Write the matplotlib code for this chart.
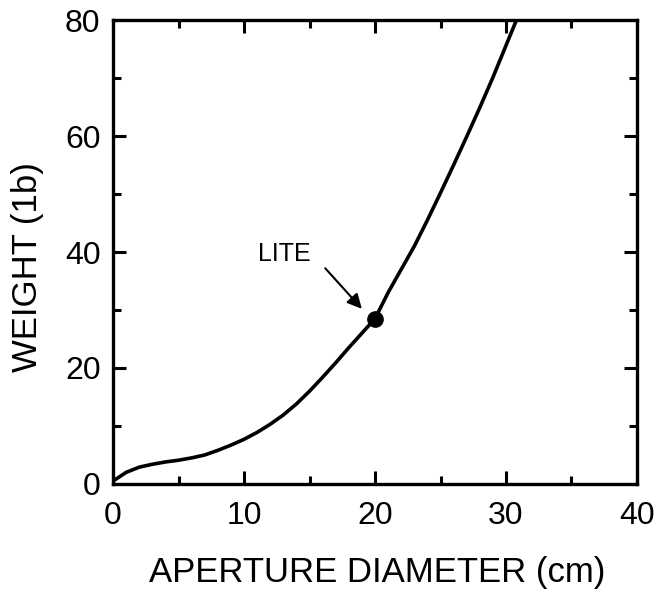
import numpy as np
import matplotlib.pyplot as plt
from matplotlib.ticker import MultipleLocator

# weight vs aperture diameter
diameter = [0, 1, 2, 3, 4, 5, 6, 7, 8, 9, 10, 11, 12, 13, 14, 15, 16, 17, 18, 19, 20,
            21, 22, 23, 24, 25, 26, 27, 28, 29, 30, 30.8]
weight = [0.5, 2.0, 2.9, 3.4, 3.8, 4.1, 4.5, 5.0, 5.8, 6.7, 7.7, 8.9, 10.3, 11.9, 13.8,
          16.0, 18.4, 20.9, 23.5, 26.0, 28.5, 33.0, 37.0, 41.0, 45.5, 50.2, 55.0, 59.9,
          64.9, 70.1, 75.6, 80.0]

# LITE design point
lite_d, lite_w = 20.0, 28.5

plt.rcParams['font.family'] = ['Liberation Sans', 'DejaVu Sans']

fig = plt.figure(figsize=(6.59, 5.94), dpi=100)
ax = fig.add_axes([0.1715, 0.1852, 0.7951, 0.7811])

ax.plot(diameter, weight, color='black', lw=2.6, solid_joinstyle='round')
ax.plot(lite_d, lite_w, 'o', color='black', ms=11)

ax.text(11.1, 39.7, 'LITE', fontsize=18, ha='left', va='center')
ax.annotate('', xy=(19.0, 30.2), xytext=(16.2, 37.2),
            arrowprops=dict(arrowstyle='-|>', color='black', lw=1.5,
                            mutation_scale=22, shrinkA=0, shrinkB=0))

ax.set_xlim(0, 40)
ax.set_ylim(0, 80)
ax.xaxis.set_major_locator(MultipleLocator(10))
ax.xaxis.set_minor_locator(MultipleLocator(5))
ax.yaxis.set_major_locator(MultipleLocator(20))
ax.yaxis.set_minor_locator(MultipleLocator(10))
ax.tick_params(which='both', direction='in', top=True, right=True, width=2.2, labelsize=23)
ax.tick_params(which='major', length=9.5)
ax.tick_params(which='minor', length=5.5)
ax.tick_params(axis='x', pad=12)
ax.tick_params(axis='y', pad=9)

for s in ax.spines.values():
    s.set_linewidth(2.4)

ax.set_xlabel('APERTURE DIAMETER (cm)', fontsize=25, va='center')
ax.set_ylabel('WEIGHT (1b)', fontsize=25, va='center')
ax.xaxis.set_label_coords(0.505, -0.19)
ax.yaxis.set_label_coords(-0.164, 0.468)

fig.savefig('out.png', dpi=100)
